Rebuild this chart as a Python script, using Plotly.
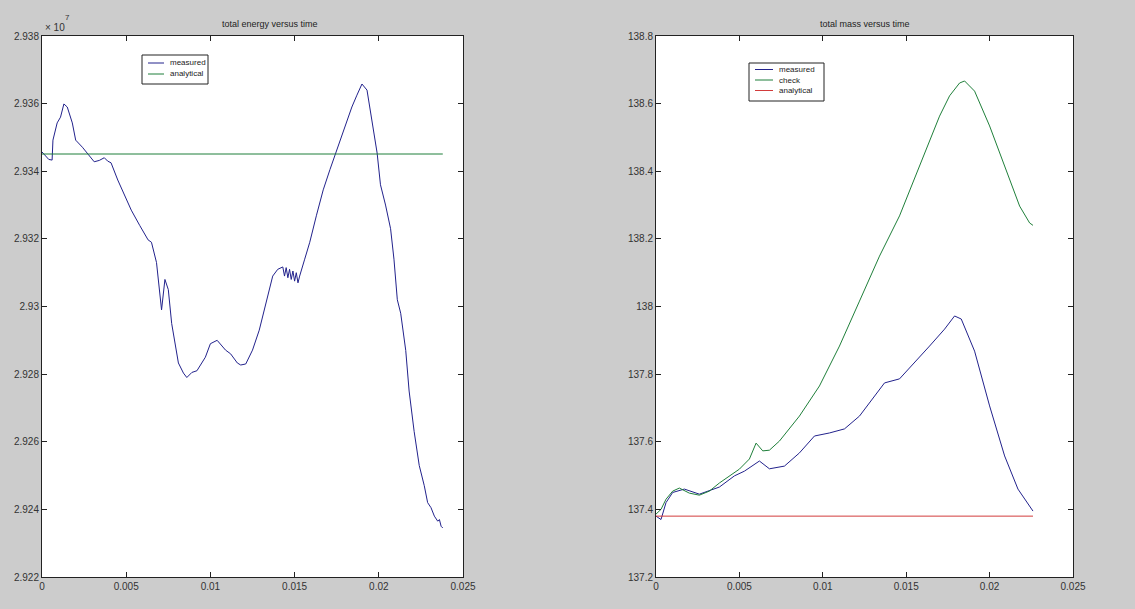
import plotly.graph_objects as go

# ---------------- data ----------------
# Left panel: total energy (units of 1e7)
t_energy = [0, 0.0002, 0.0004, 0.0006, 0.00065, 0.0009, 0.0011, 0.0013, 0.0015, 0.0018,
            0.002, 0.0024, 0.0027, 0.0031, 0.0034, 0.0037, 0.0039, 0.0041, 0.0045, 0.005,
            0.0053, 0.0058, 0.0063, 0.0065, 0.0068, 0.0071, 0.0073, 0.0075, 0.0077, 0.0081,
            0.0084, 0.0086, 0.0089, 0.0092, 0.0097, 0.01, 0.0104, 0.0109, 0.0112, 0.0116,
            0.0118, 0.0121, 0.0125, 0.0129, 0.0132, 0.0137, 0.014, 0.0143, 0.0144, 0.0145,
            0.0146, 0.0147, 0.0148, 0.0149, 0.015, 0.0151, 0.0152, 0.0153, 0.0156, 0.0159,
            0.0163, 0.0167, 0.0171, 0.0174, 0.0178, 0.0181, 0.0184, 0.0187, 0.019, 0.0193,
            0.0196, 0.0199, 0.0201, 0.0204, 0.0207, 0.0209, 0.0211, 0.0213, 0.0216, 0.0218,
            0.0221, 0.0224, 0.0227, 0.0229, 0.0231, 0.0233, 0.0235, 0.0236, 0.0237, 0.0238]
energy_measured = [2.93457, 2.93445, 2.93435, 2.93433, 2.93492, 2.93543, 2.9356, 2.93599, 2.9359, 2.93543,
                   2.93492, 2.93471, 2.93454, 2.93428, 2.93432, 2.9344, 2.9343, 2.93425, 2.93374, 2.9332,
                   2.93285, 2.9324, 2.93197, 2.9319, 2.9313, 2.9299, 2.9308, 2.9305, 2.9295, 2.92833,
                   2.92803, 2.9279, 2.92805, 2.9281, 2.9285, 2.9289, 2.929, 2.92871, 2.9286, 2.92833,
                   2.92827, 2.9283, 2.92871, 2.9293, 2.9299, 2.9309, 2.9311, 2.93117, 2.9309, 2.93115,
                   2.93085, 2.9311, 2.9308, 2.93105, 2.93075, 2.931, 2.9307, 2.9309, 2.9314, 2.9319,
                   2.9327, 2.93345, 2.93405, 2.93448, 2.9351, 2.9355, 2.9359, 2.93625, 2.93658, 2.9364,
                   2.9354, 2.93454, 2.9336, 2.933, 2.9323, 2.9314, 2.9302, 2.9298, 2.9287, 2.9275,
                   2.9263, 2.9253, 2.9247, 2.9242, 2.92405, 2.9238, 2.92365, 2.9237, 2.9235, 2.92345]
t_energy_analytical = [0, 0.0238]
energy_analytical = [2.93451, 2.93451]

# Right panel: total mass
t_mass_check = [0, 0.0003, 0.0006, 0.001, 0.0014, 0.002, 0.0026, 0.0032, 0.0038, 0.0044,
                0.005, 0.0056, 0.006, 0.0064, 0.0068, 0.0074, 0.0086, 0.0098, 0.011, 0.0122,
                0.0134, 0.0146, 0.0158, 0.017, 0.0176, 0.0182, 0.0185, 0.0191, 0.02, 0.0209,
                0.0218, 0.0224, 0.0226]
mass_check = [137.386, 137.40, 137.43, 137.454, 137.463, 137.448, 137.442, 137.454, 137.478, 137.499,
              137.519, 137.549, 137.596, 137.573, 137.575, 137.602, 137.676, 137.765, 137.883, 138.016,
              138.149, 138.268, 138.415, 138.563, 138.623, 138.661, 138.667, 138.637, 138.534, 138.415,
              138.297, 138.247, 138.24]
t_mass_measured = [0, 0.0003, 0.0006, 0.001, 0.0017, 0.0026, 0.0038, 0.0047, 0.0053, 0.0062,
                   0.0068, 0.0077, 0.0086, 0.0095, 0.0104, 0.0113, 0.0122, 0.0131, 0.0137, 0.0146,
                   0.0155, 0.0164, 0.0173, 0.0179, 0.0183, 0.0191, 0.02, 0.0209, 0.0217, 0.0224,
                   0.0226]
mass_measured = [137.38, 137.37, 137.42, 137.45, 137.46, 137.445, 137.466, 137.499, 137.513, 137.543,
                 137.52, 137.528, 137.567, 137.617, 137.626, 137.638, 137.676, 137.735, 137.774, 137.786,
                 137.833, 137.883, 137.933, 137.972, 137.963, 137.868, 137.706, 137.558, 137.46, 137.41,
                 137.395]
t_mass_analytical = [0, 0.0226]
mass_analytical = [137.38, 137.38]

x_ticks = [0, 0.005, 0.01, 0.015, 0.02, 0.025]
x_ticklabels = ["0", "0.005", "0.01", "0.015", "0.02", "0.025"]
energy_ticks = [2.922, 2.924, 2.926, 2.928, 2.93, 2.932, 2.934, 2.936, 2.938]
energy_ticklabels = ["2.922", "2.924", "2.926", "2.928", "2.93", "2.932", "2.934", "2.936", "2.938"]
mass_ticks = [137.2, 137.4, 137.6, 137.8, 138.0, 138.2, 138.4, 138.6, 138.8]
mass_ticklabels = ["137.2", "137.4", "137.6", "137.8", "138", "138.2", "138.4", "138.6", "138.8"]

legend_left = ["measured", "analytical"]
legend_right = ["measured", "check", "analytical"]

# ---------------- style ----------------
BLUE = "#22228c"
GREEN = "#1f7f3a"
RED = "#d23b3b"
FONT = "Liberation Sans"
W, H = 1135, 609

fig = go.Figure()
fig.add_trace(go.Scatter(x=t_energy, y=energy_measured, mode="lines", name=legend_left[0],
                         line=dict(color=BLUE, width=1), xaxis="x", yaxis="y"))
fig.add_trace(go.Scatter(x=t_energy_analytical, y=energy_analytical, mode="lines", name=legend_left[1],
                         line=dict(color=GREEN, width=1), xaxis="x", yaxis="y"))
fig.add_trace(go.Scatter(x=t_mass_measured, y=mass_measured, mode="lines", name=legend_right[0],
                         line=dict(color=BLUE, width=1), xaxis="x2", yaxis="y2"))
fig.add_trace(go.Scatter(x=t_mass_check, y=mass_check, mode="lines", name=legend_right[1],
                         line=dict(color=GREEN, width=1), xaxis="x2", yaxis="y2"))
fig.add_trace(go.Scatter(x=t_mass_analytical, y=mass_analytical, mode="lines", name=legend_right[2],
                         line=dict(color=RED, width=1), xaxis="x2", yaxis="y2"))

ydom = [1 - 577 / H, 1 - 36 / H]
axis_common = dict(showgrid=False, zeroline=False, showline=True, linecolor="#222", linewidth=1,
                   mirror="ticks", ticks="inside", ticklen=5, tickcolor="#222", automargin=False,
                   tickfont=dict(family=FONT, size=10, color="#333"))


def px(x):
    return x / W


def py(y):
    return 1 - y / H


shapes = []
annotations = []


def add_legend(box, rows, line_x, text_x, labels, colors):
    x0, y0, x1, y1 = box
    shapes.append(dict(type="rect", xref="paper", yref="paper", x0=px(x0), x1=px(x1), y0=py(y1), y1=py(y0),
                       line=dict(color="#222", width=1), fillcolor="white", layer="above"))
    for row, label, color in zip(rows, labels, colors):
        shapes.append(dict(type="line", xref="paper", yref="paper", x0=px(line_x[0]), x1=px(line_x[1]),
                           y0=py(row), y1=py(row), line=dict(color=color, width=1), layer="above"))
        annotations.append(dict(text=label, x=px(text_x), y=py(row), xref="paper", yref="paper",
                                showarrow=False, xanchor="left", yanchor="middle",
                                font=dict(family=FONT, size=8, color="#222")))


add_legend((142, 55, 208, 84), [63, 74], (148, 164), 168, legend_left, [BLUE, GREEN])
add_legend((749, 63, 824, 101), [69.5, 80, 90.5], (755, 773), 777, legend_right, [BLUE, GREEN, RED])

annotations += [
    dict(text="total energy versus time", x=px(270), y=py(24), xref="paper", yref="paper",
         showarrow=False, font=dict(family=FONT, size=9, color="#222"), xanchor="center", yanchor="middle"),
    dict(text="total mass versus time", x=px(865), y=py(24), xref="paper", yref="paper",
         showarrow=False, font=dict(family=FONT, size=9, color="#222"), xanchor="center", yanchor="middle"),
    dict(text="× 10", x=px(43), y=py(27), xref="paper", yref="paper",
         showarrow=False, font=dict(family=FONT, size=10, color="#333"), xanchor="left", yanchor="middle"),
    dict(text="7", x=px(63), y=py(18), xref="paper", yref="paper",
         showarrow=False, font=dict(family=FONT, size=8, color="#333"), xanchor="left", yanchor="middle"),
]

fig.update_layout(
    width=W, height=H,
    margin=dict(l=0, r=0, t=0, b=0, pad=0, autoexpand=False),
    paper_bgcolor="#cccccc", plot_bgcolor="white",
    showlegend=False,
    xaxis=dict(domain=[px(42), px(463)], range=[0, 0.025], tickvals=x_ticks, ticktext=x_ticklabels,
               anchor="y", **axis_common),
    yaxis=dict(domain=ydom, range=[2.922, 2.938], tickvals=energy_ticks, ticktext=energy_ticklabels,
               anchor="x", **axis_common),
    xaxis2=dict(domain=[px(656), px(1073)], range=[0, 0.025], tickvals=x_ticks, ticktext=x_ticklabels,
                anchor="y2", **axis_common),
    yaxis2=dict(domain=ydom, range=[137.2, 138.8], tickvals=mass_ticks, ticktext=mass_ticklabels,
                anchor="x2", **axis_common),
    shapes=shapes,
    annotations=annotations,
)

fig.write_html("out.html")
